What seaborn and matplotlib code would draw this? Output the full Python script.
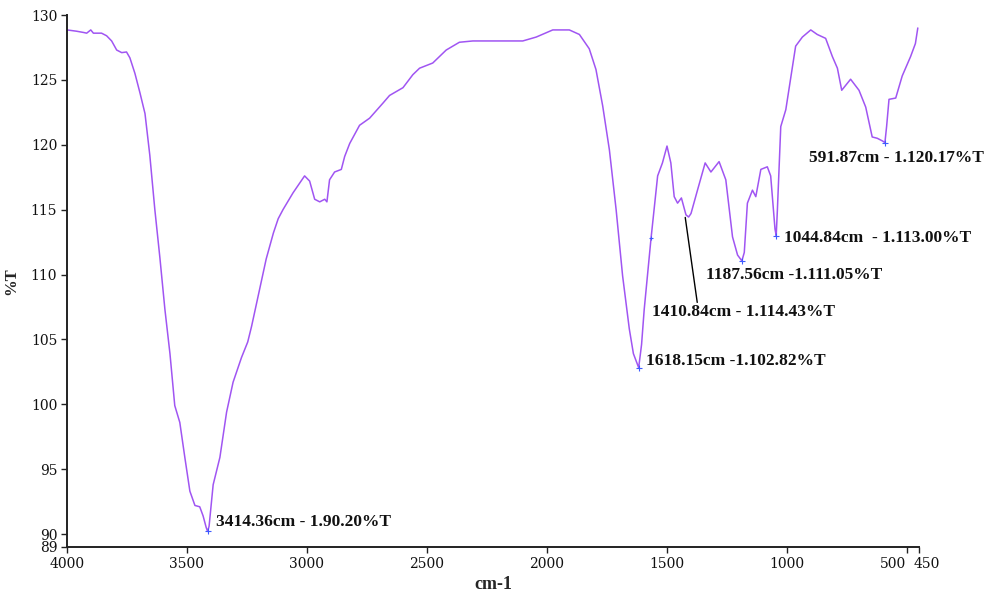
import matplotlib
matplotlib.use("Agg")
import matplotlib.pyplot as plt
import matplotlib.transforms as mtransforms
import seaborn as sns
import pandas as pd

# ---- data ----
wavenumber = [4000, 3960, 3930, 3918, 3901, 3890, 3856, 3835, 3814, 3793, 3772, 3752,
              3738, 3717, 3696, 3675, 3655, 3634, 3613, 3592, 3571, 3551, 3530, 3509,
              3488, 3467, 3447, 3433, 3420, 3414, 3408, 3391, 3363, 3335, 3308, 3273,
              3247, 3231, 3197, 3170, 3140, 3120, 3100, 3058, 3010, 2989, 2968, 2947,
              2926, 2917, 2906, 2885, 2857, 2843, 2822, 2781, 2739, 2684, 2656, 2600,
              2559, 2531, 2476, 2420, 2365, 2309, 2212, 2101, 2045, 1976, 1907, 1865,
              1824, 1796, 1768, 1740, 1712, 1685, 1657, 1640, 1618, 1606, 1595, 1567,
              1539, 1519, 1500, 1484, 1470, 1456, 1440, 1421, 1410, 1400, 1373, 1341,
              1317, 1283, 1255, 1227, 1206, 1188, 1178, 1165, 1144, 1130, 1109, 1082,
              1068, 1050, 1045, 1040, 1026, 1005, 964, 936, 901, 874, 839, 811,
              790, 772, 735, 700, 672, 645, 624, 603, 592, 585, 575, 547,
              520, 485, 465, 455]
transmittance = [128.85, 128.75, 128.65, 128.6, 128.85, 128.6, 128.6, 128.4, 128.0, 127.3, 127.1, 127.15,
                 126.7, 125.5, 124.0, 122.4, 119.2, 115.0, 111.3, 107.3, 103.9, 99.9, 98.6, 95.9,
                 93.3, 92.2, 92.1, 91.4, 90.5, 90.2, 90.6, 93.8, 95.9, 99.4, 101.7, 103.6,
                 104.8, 106.0, 108.9, 111.2, 113.2, 114.3, 115.0, 116.3, 117.6, 117.2, 115.8, 115.6,
                 115.8, 115.6, 117.3, 117.9, 118.1, 119.1, 120.1, 121.5, 122.05, 123.2, 123.8, 124.4,
                 125.4, 125.9, 126.3, 127.3, 127.9, 128.0, 128.0, 128.0, 128.3, 128.85, 128.85, 128.5,
                 127.4, 125.8, 123.0, 119.6, 115.0, 109.9, 105.8, 103.9, 102.82, 104.6, 107.3, 112.7,
                 117.6, 118.6, 119.9, 118.6, 116.0, 115.5, 115.9, 114.6, 114.43, 114.7, 116.5, 118.6,
                 117.9, 118.7, 117.3, 112.9, 111.5, 111.05, 111.7, 115.5, 116.5, 116.0, 118.1, 118.3,
                 117.6, 113.5, 113.0, 115.0, 121.4, 122.7, 127.6, 128.3, 128.85, 128.5, 128.2, 126.8,
                 125.9, 124.2, 125.05, 124.2, 122.9, 120.6, 120.5, 120.3, 120.17, 121.4, 123.5, 123.6,
                 125.3, 126.8, 127.8, 129.0]

peak_wn = [3414.36, 1618.15, 1410.84, 1187.56, 1044.84, 591.87]
peak_t = [90.20, 102.82, 114.43, 111.05, 113.00, 120.17]
peak_labels = ["3414.36cm - 1.90.20%T", "1618.15cm -1.102.82%T", "1410.84cm - 1.114.43%T",
               "1187.56cm -1.111.05%T", "1044.84cm  - 1.113.00%T", "591.87cm - 1.120.17%T"]
label_x = [3380, 1586, 1561, 1337, 1012, 908]
label_y = [90.9, 103.3, 107.1, 110.0, 112.85, 119.0]

x_ticks = [4000, 3500, 3000, 2500, 2000, 1500, 1000, 500, 450]
y_ticks = [89, 90, 95, 100, 105, 110, 115, 120, 125, 130]

df = pd.DataFrame({"wn": wavenumber, "T": transmittance})

sns.set_theme(style="ticks")
plt.rcParams["font.family"] = ["DejaVu Serif"]

fig, ax = plt.subplots(figsize=(10, 5.93), dpi=100)
fig.subplots_adjust(left=0.067, right=0.919, top=0.9747, bottom=0.0776)

sns.lineplot(data=df, x="wn", y="T", ax=ax, sort=False, estimator=None,
             color="#a055f2", linewidth=1.1)

# small peak markers
ax.scatter(peak_wn[:2] + peak_wn[3:], peak_t[:2] + peak_t[3:], marker="+", s=14,
           color="#3d5bff", linewidths=0.8, zorder=3)
ax.scatter([1565], [112.8], marker="+", s=10, color="#3d5bff", linewidths=0.8, zorder=3)

for lx, ly, txt in zip(label_x, label_y, peak_labels):
    ax.text(lx, ly, txt, fontsize=12.5, fontweight="bold", va="center", ha="left",
            family=["Liberation Serif", "DejaVu Serif"], color="#111111")
# leader line for 1410.84
ax.plot([1424, 1374], [114.4, 107.85], color="black", linewidth=1.0)

ax.set_xlim(4000, 450)
ax.set_ylim(89, 130)
ax.set_xticks(x_ticks)
ax.set_xticklabels([str(v) for v in x_ticks])
ax.set_yticks(y_ticks)
ax.set_yticklabels([str(v) for v in y_ticks])

for side in ["top", "right"]:
    ax.spines[side].set_visible(False)
for side in ["left", "bottom"]:
    ax.spines[side].set_color("#222222")
    ax.spines[side].set_linewidth(1.4)

ax.tick_params(axis="both", direction="out", length=4, width=1.0, color="#222222",
               labelsize=10, labelcolor="#111111", pad=3)

labels = ax.get_xticklabels()
labels[-2].set_transform(labels[-2].get_transform() +
                         mtransforms.ScaledTranslation(-14 / 100, 0, fig.dpi_scale_trans))
labels[-1].set_transform(labels[-1].get_transform() +
                         mtransforms.ScaledTranslation(8 / 100, 0, fig.dpi_scale_trans))

ax.set_xlabel("cm-1", fontsize=13, fontweight="bold", family=["Liberation Serif"], labelpad=4)
ax.set_ylabel("%T", fontsize=12, fontweight="bold", family=["Liberation Serif"], labelpad=8)

fig.savefig("out.png", dpi=100, facecolor="white")
